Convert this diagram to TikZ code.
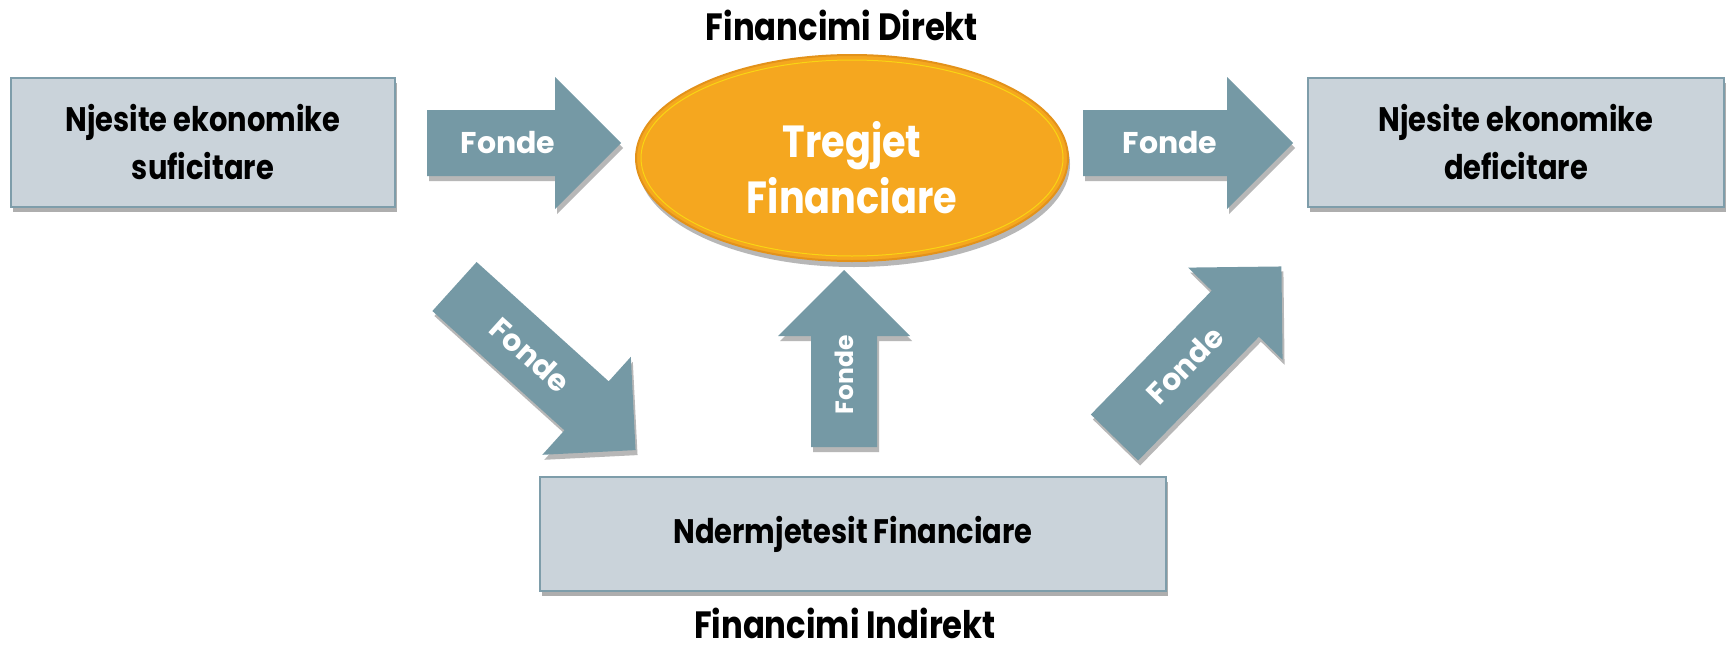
\documentclass[tikz,border=0pt]{standalone}
\usepackage{fontspec}
\setmainfont{Poppins}
\newfontfamily\condfont{Poppins}[FakeStretch=0.85]
\usetikzlibrary{shadows,calc}
\definecolor{boxfill}{HTML}{CAD3DA}
\definecolor{boxline}{HTML}{7E9DAA}
\definecolor{arrowfill}{HTML}{7599A5}
\definecolor{orangefill}{HTML}{F5A71F}
\definecolor{orangeline}{HTML}{E3921A}
\tikzset{
  infobox/.style={draw=boxline, line width=1.5pt, fill=boxfill, inner sep=0pt,
    drop shadow={shadow xshift=2pt, shadow yshift=-5pt, opacity=0.45, fill=black!70}},
  boxtext/.style={font=\condfont\bfseries\fontsize{34}{48}\selectfont, align=center, text=black, inner sep=0pt},
  titletext/.style={font=\condfont\bfseries\fontsize{38}{44}\selectfont, text=black, inner sep=0pt},
  arrowshape/.style={fill=arrowfill, draw=none,
    drop shadow={shadow xshift=2pt, shadow yshift=-5pt, opacity=0.4, fill=black!70}},
  arrowlabel/.style={font=\bfseries\fontsize{30}{30}\selectfont, text=white, inner sep=0pt, transform shape},
}
% #1 name, #2 start coordinate, #3 angle, #4 length, #5 label position, #6 font size
\newcommand{\blockarrow}[6]{%
  \begin{scope}[shift={(#2)}, rotate=#3]
    \fill[arrowshape] (0,33) -- ({#4-66},33) -- ({#4-66},66) -- (#4,0) -- ({#4-66},-66) -- ({#4-66},-33) -- (0,-33) -- cycle;
    \node[arrowlabel, font=\bfseries\fontsize{#6}{#6}\selectfont] (#1) at (#5,0) {Fonde};
  \end{scope}}
\begin{document}
\begin{tikzpicture}[x=1pt, y=-1pt]
\useasboundingbox (0,0) rectangle (1729,651);
\fill[white] (0,0) rectangle (1729,651);

% boxes
\node[infobox, minimum width=384pt, minimum height=129pt] (L) at (203,142.5) {};
\node[boxtext] (Ltext) at (L.center) {Njesite ekonomike\\suficitare};
\node[infobox, minimum width=416pt, minimum height=129pt] (R) at (1516,142.5) {};
\node[boxtext] (Rtext) at (R.center) {Njesite ekonomike\\deficitare};
\node[infobox, minimum width=626pt, minimum height=114pt] (B) at (853,534) {};
\node[boxtext] (Btext) at (B.center) {Ndermjetesit Financiare};

% ellipse
\draw[fill=orangefill, draw=orangeline, line width=2pt,
  drop shadow={shadow xshift=2pt, shadow yshift=-6pt, opacity=0.4, fill=black!70}]
  (852,158) ellipse [x radius=216, y radius=103];
\draw[yellow!60!orangefill, line width=1pt] (852,158) ellipse [x radius=211, y radius=98];
\node[font=\condfont\bfseries\fontsize{45}{56}\selectfont, text=white, align=center, inner sep=0pt] (M) at (852,168) {Tregjet\\Financiare};

% titles
\node[titletext, anchor=base] (T1) at (842,40) {Financimi Direkt};
\node[titletext, anchor=base] (T2) at (845,638) {Financimi Indirekt};

% arrows
\coordinate (a1) at (427,143);
\coordinate (a2) at (1083,143);
\coordinate (a3) at (454.5,286.5);
\coordinate (a4) at (844,447);
\coordinate (a5) at (1114.5,437.5);
\blockarrow{f1}{a1}{0}{194}{81}{30}
\blockarrow{f2}{a2}{0}{210}{87}{30}
\blockarrow{f3}{a3}{-42.1}{244}{102}{30}
\blockarrow{f4}{a4}{90}{177}{72}{25}
\blockarrow{f5}{a5}{45.7}{239}{101}{30}
\end{tikzpicture}
\end{document}
